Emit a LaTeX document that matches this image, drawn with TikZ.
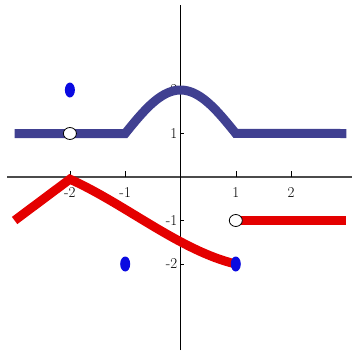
\documentclass[tikz,border=0pt]{standalone}
\usepackage{tikz}
\usetikzlibrary{arrows.meta,positioning}

\begin{document}
\begin{tikzpicture}[x=55.3pt, y=43.5pt, every node/.style={font=\fontsize{15}{15}\selectfont, inner sep=0pt}]
  % Define colors
  \definecolor{bluecol}{RGB}{64,64,145}
  \definecolor{redcol}{RGB}{228,0,0}
  \definecolor{dotcol}{RGB}{10,10,225}
  \definecolor{axiscol}{RGB}{75,75,75}
  \tikzset{
    graphline/.style={line width=9pt},
    opendot/.style={draw=black, fill=white, line width=0.8pt},
    filldot/.style={fill=dotcol},
  }
  \useasboundingbox (-3.264,-4.023) rectangle (3.101,4.069);

  % Axes
  \draw[axiscol, line width=1.6pt] (-3.137,0) -- (3.101,0);
  \draw[black, line width=1.1pt] (0,-3.98) -- (0,3.95);

  % Ticks and labels
  \foreach \x in {-2,-1,1,2} {
    \draw[thin] (\x,0) -- ++(0,6pt);
    \node[below=10pt] (xlab\x) at (\x,0) {\x};
  }
  \foreach \y in {-2,-1,1,2} {
    \draw[thin] (0,\y) -- ++(4pt,0);
    \node[left=3pt] (ylab\y) at (0,\y) {\y};
  }

  % Blue graph
  \draw[bluecol, graphline] (-3,1) -- (-1,1) -- plot[domain=-1:1, samples=40] (\x,{1+cos(90*\x)}) -- (3,1);

  % Red graph
  \draw[redcol, graphline, line join=miter] (-3,-1) -- (-2,-0.05) .. controls (-1,-0.62) and (0,-1.7) .. (1,-2);
  \draw[redcol, graphline] (1,-1) -- (3,-1);

  % Open and filled points
  \draw[opendot] (-2,1) circle[x radius=6.5pt, y radius=6pt];
  \draw[opendot] (1,-1) circle[x radius=6.5pt, y radius=6pt];
  \fill[filldot] (-2,2) ellipse[x radius=5pt, y radius=7.5pt];
  \fill[filldot] (-1,-2) ellipse[x radius=5pt, y radius=7.5pt];
  \fill[filldot] (1,-2) ellipse[x radius=5pt, y radius=7.5pt];
\end{tikzpicture}
\end{document}
